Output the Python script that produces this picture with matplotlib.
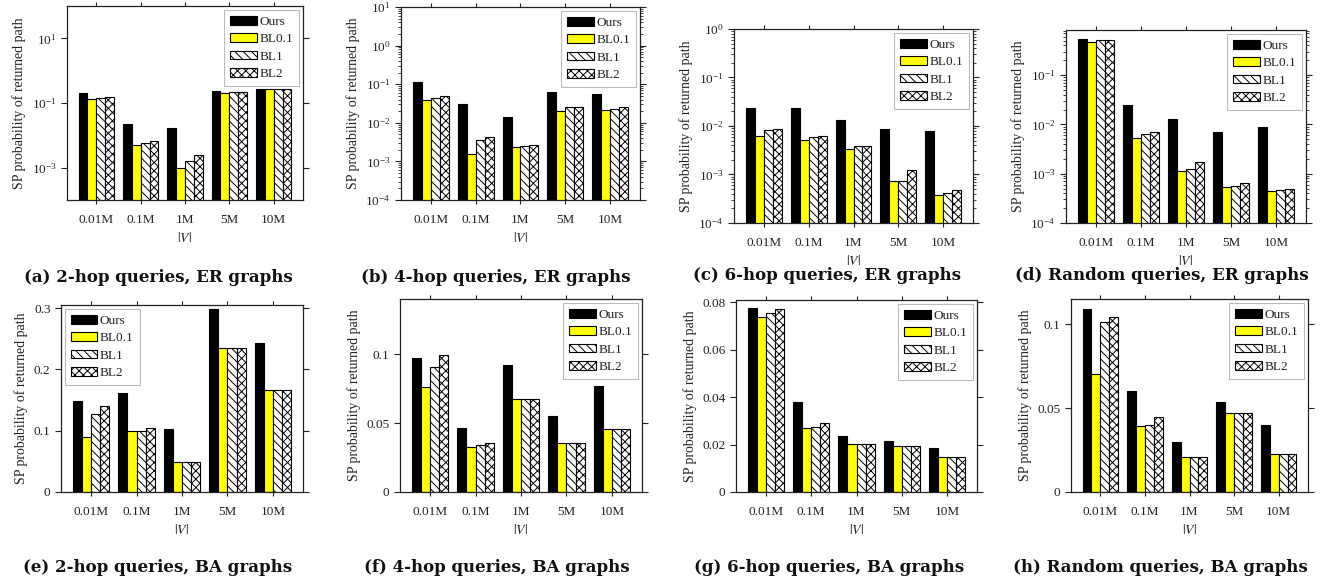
import numpy as np
import matplotlib
matplotlib.use("Agg")
import matplotlib.pyplot as plt
from matplotlib.ticker import FuncFormatter, LogLocator, NullLocator, NullFormatter

plt.rcParams['font.family'] = ['Liberation Serif', 'DejaVu Serif']
plt.rcParams['mathtext.fontset'] = 'stix'
plt.rcParams['hatch.linewidth'] = 0.7

W, H = 1326, 588

categories = ["0.01M", "0.1M", "1M", "5M", "10M"]
series_names = ["Ours", "BL0.1", "BL1", "BL2"]

# (a) 2-hop, ER
a_ours = [0.20, 0.023, 0.0165, 0.23, 0.27]
a_bl01 = [0.136, 0.0051, 0.0010, 0.21, 0.27]
a_bl1 = [0.14, 0.0058, 0.00165, 0.22, 0.27]
a_bl2 = [0.15, 0.0068, 0.0025, 0.22, 0.27]
# (b) 4-hop, ER
b_ours = [0.115, 0.0298, 0.014, 0.062, 0.0564]
b_bl01 = [0.039, 0.00159, 0.00237, 0.0208, 0.021]
b_bl1 = [0.043, 0.00368, 0.0025, 0.0259, 0.023]
b_bl2 = [0.049, 0.0044, 0.0026, 0.0259, 0.0252]
# (c) 6-hop, ER
c_ours = [0.0232, 0.023, 0.0131, 0.0088, 0.0079]
c_bl01 = [0.0063, 0.0051, 0.0034, 0.00075, 0.000385]
c_bl1 = [0.0083, 0.0059, 0.00386, 0.00075, 0.000425]
c_bl2 = [0.0085, 0.0062, 0.0039, 0.00121, 0.00049]
# (d) Random, ER
d_ours = [0.545, 0.025, 0.0128, 0.0069, 0.0088]
d_bl01 = [0.474, 0.0054, 0.00113, 0.00054, 0.00044]
d_bl1 = [0.505, 0.0063, 0.00125, 0.00057, 0.00047]
d_bl2 = [0.505, 0.0070, 0.00175, 0.00066, 0.00050]
# (e) 2-hop, BA
e_ours = [0.149, 0.161, 0.102, 0.299, 0.2426]
e_bl01 = [0.0904, 0.0996, 0.0487, 0.2355, 0.167]
e_bl1 = [0.128, 0.0996, 0.0487, 0.2355, 0.167]
e_bl2 = [0.141, 0.104, 0.0487, 0.2355, 0.167]
# (f) 4-hop, BA
f_ours = [0.0969, 0.0466, 0.0918, 0.0548, 0.0768]
f_bl01 = [0.0761, 0.0326, 0.0674, 0.0353, 0.0454]
f_bl1 = [0.0910, 0.0343, 0.0674, 0.0353, 0.0454]
f_bl2 = [0.0993, 0.0355, 0.0674, 0.0353, 0.0454]
# (g) 6-hop, BA
g_ours = [0.0775, 0.0378, 0.0238, 0.0217, 0.0186]
g_bl01 = [0.0740, 0.0269, 0.0202, 0.0192, 0.0147]
g_bl1 = [0.0757, 0.0275, 0.0202, 0.0192, 0.0147]
g_bl2 = [0.0771, 0.0293, 0.0202, 0.0192, 0.0147]
# (h) Random, BA
h_ours = [0.1093, 0.0602, 0.0295, 0.0535, 0.0400]
h_bl01 = [0.0701, 0.0392, 0.0206, 0.0473, 0.0228]
h_bl1 = [0.1010, 0.0398, 0.0206, 0.0473, 0.0228]
h_bl2 = [0.1044, 0.0444, 0.0206, 0.0473, 0.0228]

captions = ["(a) 2-hop queries, ER graphs", "(b) 4-hop queries, ER graphs",
            "(c) 6-hop queries, ER graphs", "(d) Random queries, ER graphs",
            "(e) 2-hop queries, BA graphs", "(f) 4-hop queries, BA graphs",
            "(g) 6-hop queries, BA graphs", "(h) Random queries, BA graphs"]

panels = [
    dict(data=[a_ours, a_bl01, a_bl1, a_bl2], rect=(67, 6, 303, 200), log=True,
         ylim=(1e-4, 1e2), yticks=[1e-3, 1e-1, 1e1], minor=False, leg='upper right', cap=(158, 277)),
    dict(data=[b_ours, b_bl01, b_bl1, b_bl2], rect=(401, 7, 640, 200), log=True,
         ylim=(1e-4, 1e1), yticks=[1e-4, 1e-3, 1e-2, 1e-1, 1e0, 1e1], minor=True, leg='upper right', cap=(496, 277)),
    dict(data=[c_ours, c_bl01, c_bl1, c_bl2], rect=(734, 29, 973, 223), log=True,
         ylim=(1e-4, 1e0), yticks=[1e-4, 1e-3, 1e-2, 1e-1, 1e0], minor=True, leg='upper right', cap=(827, 275)),
    dict(data=[d_ours, d_bl01, d_bl1, d_bl2], rect=(1066, 30, 1306, 223), log=True,
         ylim=(1e-4, 0.82), yticks=[1e-4, 1e-3, 1e-2, 1e-1], minor=True, leg='upper right', cap=(1162, 275)),
    dict(data=[e_ours, e_bl01, e_bl1, e_bl2], rect=(61, 305, 303, 492), log=False,
         ylim=(0, 0.305), yticks=[0, 0.1, 0.2, 0.3], leg='upper left', cap=(158, 567)),
    dict(data=[f_ours, f_bl01, f_bl1, f_bl2], rect=(400, 299, 642, 492), log=False,
         ylim=(0, 0.14), yticks=[0, 0.05, 0.1], leg='upper right', cap=(497, 567)),
    dict(data=[g_ours, g_bl01, g_bl1, g_bl2], rect=(736, 300, 977, 492), log=False,
         ylim=(0, 0.081), yticks=[0, 0.02, 0.04, 0.06, 0.08], leg='upper right', cap=(829, 568)),
    dict(data=[h_ours, h_bl01, h_bl1, h_bl2], rect=(1071, 299, 1308, 492), log=False,
         ylim=(0, 0.115), yticks=[0, 0.05, 0.1], leg='upper right', cap=(1160, 567)),
]

styles = [
    dict(facecolor='black', hatch=None),
    dict(facecolor='#ffff00', hatch=None),
    dict(facecolor='white', hatch='\\\\\\\\'),
    dict(facecolor='white', hatch='xxxx'),
]

fig = plt.figure(figsize=(W / 100, H / 100), dpi=100)

x = np.arange(len(categories))
bw = 0.2
dark = '#222222'

for p, caption in zip(panels, captions):
    l, t, r, b = p['rect']
    ax = fig.add_axes([l / W, 1 - b / H, (r - l) / W, (b - t) / H])
    for i, (vals, st) in enumerate(zip(p['data'], styles)):
        ax.bar(x + (i - 1.5) * bw, vals, bw, facecolor=st['facecolor'], hatch=st['hatch'],
               edgecolor='black', linewidth=0.8, label=series_names[i], zorder=2)
    ax.set_xlim(-0.66, 4.66)
    if p['log']:
        ax.set_yscale('log')
        ax.set_ylim(*p['ylim'])
        ax.set_yticks(p['yticks'])
        if p['minor']:
            ax.yaxis.set_minor_locator(LogLocator(base=10, subs=np.arange(2, 10), numticks=20))
        else:
            ax.yaxis.set_minor_locator(NullLocator())
        ax.yaxis.set_minor_formatter(NullFormatter())
    else:
        ax.set_ylim(*p['ylim'])
        ax.set_yticks(p['yticks'])
        ax.yaxis.set_major_formatter(FuncFormatter(lambda v, pos: '%g' % v))
    ax.set_xticks(x)
    ax.set_xticklabels(categories)
    ax.tick_params(which='major', direction='out', length=4.5, width=0.8, top=True, right=True,
                   labelsize=9.5, colors=dark, pad=3)
    ax.tick_params(axis='x', which='major', length=3, pad=7)
    ax.tick_params(which='minor', direction='out', length=2.2, width=0.6, right=True, left=True, colors=dark)
    for s in ax.spines.values():
        s.set_linewidth(0.9)
        s.set_color(dark)
    ax.set_ylabel('SP probability of returned path', fontsize=10, color=dark, labelpad=4)
    ax.set_xlabel('$|V|$', fontsize=10, color=dark, labelpad=4)
    leg = ax.legend(loc=p['leg'], fontsize=9.5, frameon=True, fancybox=False, edgecolor='#bbbbbb',
                    handlelength=2.0, handleheight=0.65, labelspacing=0.4, handletextpad=0.2,
                    borderpad=0.45, borderaxespad=0.3, framealpha=1)
    leg.get_frame().set_linewidth(0.8)
    for txt in leg.get_texts():
        txt.set_color(dark)
    cx, cy = p['cap']
    fig.text(cx / W, 1 - cy / H, caption, ha='center', va='center', fontsize=12,
             fontweight='bold', color='#111111', family='DejaVu Serif')

fig.savefig('out.png', dpi=100)
